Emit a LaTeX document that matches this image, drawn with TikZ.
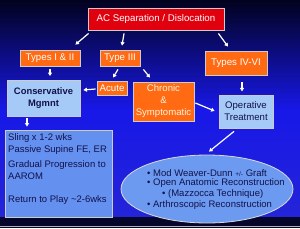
\documentclass[tikz,border=0pt]{standalone}
\usepackage{fontspec}
\setmainfont{Liberation Sans}
\usetikzlibrary{arrows.meta,calc,shapes.geometric}
\definecolor{bgtop}{HTML}{02021E}
\definecolor{bgmid}{HTML}{1818E8}
\definecolor{bgbot}{HTML}{2424D8}
\definecolor{band}{HTML}{06062A}
\definecolor{redbox}{HTML}{E0000E}
\definecolor{orbox}{HTML}{FF6A12}
\definecolor{ltblue}{HTML}{A6CAF8}
\definecolor{midblue}{HTML}{6490F0}
\definecolor{ellblue}{HTML}{6C9AF0}
\definecolor{navytext}{HTML}{12124A}
\definecolor{cream}{HTML}{FFF4DC}
\begin{document}
\begin{tikzpicture}[x=1pt,y=-1pt,
  every node/.style={font=\fontsize{9.5}{11}\selectfont, inner sep=0pt},
  lbl/.style={font=\fontsize{9.7}{11}\selectfont},
  box/.style={draw=gray!40, line width=0.8pt},
  redb/.style={box, lbl, fill=redbox, text=white},
  orb/.style={box, lbl, fill=orbox, text=white},
  ltb/.style={box, fill=ltblue, text=navytext},
  arr/.style={draw=white, line width=1.2pt, -{Triangle[length=3.5pt,width=4pt]}},
  txt/.style={anchor=west, text=navytext}]
\useasboundingbox (0,0) rectangle (300,228);
% background
\shade[top color=bgtop, bottom color=bgmid] (0,0) rectangle (300,110);
\shade[top color=bgmid, bottom color=bgbot] (0,110) rectangle (300,217);
\fill[band] (0,217) rectangle (300,228);
\draw[gray!60, line width=0.6pt] (0,226) -- (300,226);
% nodes
\node[redb, minimum width=136pt, minimum height=22pt] (ac) at (156,19) {AC Separation / Dislocation};
\node[orb, minimum width=60pt, minimum height=16pt] (t12) at (50,58) {Types I \& II};
\node[orb, minimum width=40pt, minimum height=16pt] (t3) at (120,58) {Type III};
\node[orb, minimum width=62pt, minimum height=24pt] (t46) at (236,63) {Types IV-VI};
\node[ltb, minimum width=73pt, minimum height=36pt, align=center, font=\fontsize{9.4}{12}\selectfont\bfseries] (cons) at (43.5,98) {Conservative\\Mgmnt};
\node[orb, minimum width=30pt, minimum height=14pt] (acute) at (112,88) {Acute};
\node[orb, minimum width=61pt, minimum height=39pt, align=center, text=cream, font=\fontsize{9.6}{12}\selectfont] (chron) at (163.5,101.5) {Chronic\\\&\\Symptomatic};
\node[ltb, minimum width=54pt, minimum height=33pt, align=center, font=\fontsize{9.6}{12}\selectfont] (op) at (246,111.5) {Operative\\Treatment};
\node[draw=gray!40, line width=0.8pt, fill=midblue, minimum width=107pt, minimum height=87pt] (sling) at (58.5,173.5) {};
\node[ellipse, draw=gray!30, line width=0.8pt, fill=ellblue, minimum width=172pt, minimum height=68pt] (ell) at (207,189) {};
% sling text
\node[txt] (s1) at (8,138) {Sling x 1-2 wks};
\node[txt] (s2) at (8,150) {Passive Supine FE, ER};
\node[txt] (s3) at (8,165) {Gradual Progression to};
\node[txt] (s4) at (8,176) {AAROM};
\node[txt] (s5) at (8,200) {Return to Play \textasciitilde2-6wks};
% ellipse text
\node[txt] (e1) at (147,173) {• Mod Weaver-Dunn {\fontsize{6.5}{7}\selectfont +/-} Graft};
\node[txt] (e2) at (147,183.5) {• Open Anatomic Reconstruction};
\node[txt] (e3) at (162,194) {• (Mazzocca Technique)};
\node[txt] (e4) at (147,205) {• Arthroscopic Reconstruction};
% arrows
\draw[arr] ($(ac.south west)+(1,3)$) -- ($(t12.north east)+(-5,-5)$);
\draw[arr] ($(ac.south)+(-32,3)$) -- ($(t3.north)+(2,-4)$);
\draw[arr] ($(ac.south east)+(-6,3)$) -- ($(t46.north)+(-8,-4)$);
\draw[arr] ($(t12.south)+(0,2.5)$) -- ($(t12.south |- cons.north)+(0,-3.5)$);
\draw[arr] ($(t3.south)+(-2,3)$) -- ($(acute.north)+(1,-3)$);
\draw[arr] ($(t3.south east)+(3,3)$) -- ($(chron.north)+(-13.5,-4)$);
\draw[arr] ($(acute.west)+(-1,1)$) -- ($(cons.east)+(3,-8)$);
\draw[arr] ($(chron.east)+(1,1.5)$) -- ($(op.west)+(-4,-0.5)$);
\draw[arr] ($(t46.south)+(6,7)$) -- ($(t46.south -| op.north)+(-4,16)$);
\draw[arr] ($(cons.south)+(-16.5,2)$) -- ($(sling.north)+(-31.5,-3)$);
\draw[arr] ($(op.south)+(-12,3)$) -- ($(ell.north)+(2,-3)$);
\end{tikzpicture}
\end{document}
